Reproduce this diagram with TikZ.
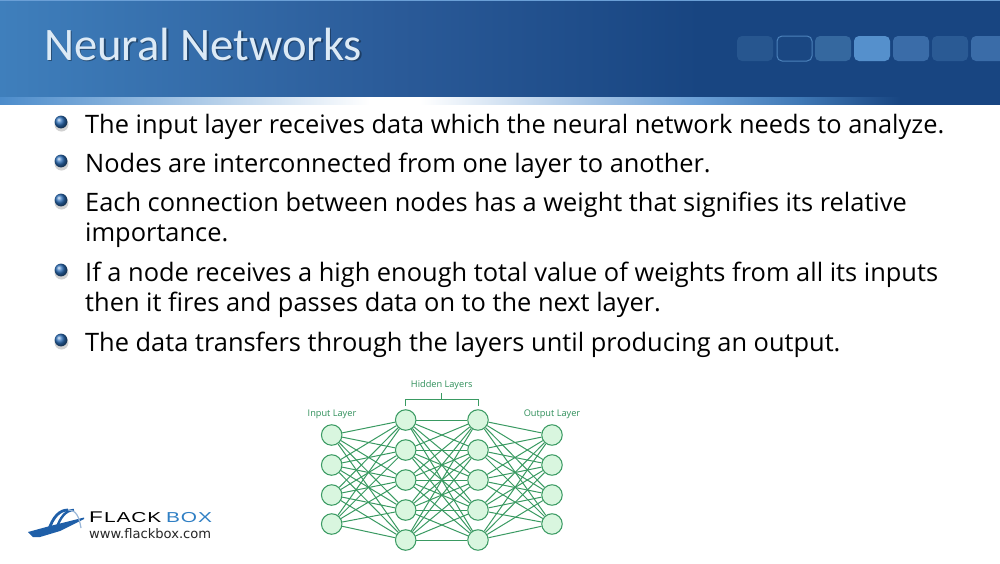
\documentclass[tikz,border=0pt]{standalone}
\usepackage{fontspec}
\setmainfont{Open Sans}
\newfontfamily\titlefont{Carlito}
\newfontfamily\logofont[FakeStretch=1.45,LetterSpace=6]{Liberation Sans}
\newfontfamily\urlfont{DejaVu Sans}
\definecolor{netgreen}{HTML}{3A9A62}
\definecolor{netfill}{HTML}{D9F6DF}
\definecolor{netlabel}{HTML}{2F8F5A}
\definecolor{boxblue}{HTML}{2F7FC4}
\definecolor{bridgeblue}{HTML}{1F5FA8}
\definecolor{ballblue}{HTML}{2C6FBA}
\definecolor{titletext}{HTML}{DCEAF6}
\definecolor{tabA}{HTML}{27568F}
\definecolor{tabB}{HTML}{1A4782}
\definecolor{tabC}{HTML}{35689F}
\definecolor{tabD}{HTML}{5590CC}
\definecolor{tabE}{HTML}{3A6CA8}
\definecolor{tabF}{HTML}{2A5A94}
\definecolor{tabEdge}{HTML}{4C82BB}
\definecolor{bandA}{HTML}{3F7FBC}
\definecolor{bandB}{HTML}{2A5A98}
\definecolor{bandC}{HTML}{184581}
\definecolor{stripA}{HTML}{4C8CCB}
\definecolor{stripB}{HTML}{9FC0E3}
\definecolor{stripC}{HTML}{6A9FD6}
\definecolor{stripD}{HTML}{3F78B5}
\pgfdeclarehorizontalshading{headband}{100bp}{
  color(0bp)=(bandA); color(25bp)=(bandA); color(45bp)=(bandB); color(60bp)=(bandC); color(100bp)=(bandC)}
\pgfdeclarehorizontalshading{stripband}{100bp}{
  color(0bp)=(stripA); color(25bp)=(stripA); color(43.5bp)=(white); color(46bp)=(white); color(55bp)=(stripB); color(60bp)=(stripC); color(65bp)=(stripD); color(70bp)=(bandC); color(100bp)=(bandC)}
\tikzset{
  netnode/.style={circle,draw=netgreen,fill=netfill,line width=1.05pt,minimum size=20.5pt,inner sep=0pt},
  netedge/.style={draw=netgreen,line width=1pt},
  netlbl/.style={font=\fontsize{9.2}{11}\selectfont,text=netlabel,inner sep=0pt},
  bodyline/.style={anchor=base west,inner sep=0pt,font=\fontsize{25.4}{30}\selectfont,text=black},
  tabbox/.style={rounded corners=5pt}
}
\newcommand{\ballbullet}[2]{%
  \fill[black!45,opacity=.4] (#1+.5,#2+2.5) circle (7);
  \shade[ball color=ballblue] (#1,#2) circle (6.4);
}
\begin{document}
\begin{tikzpicture}[x=1pt,y=-1pt]
\useasboundingbox (0,0) rectangle (1000,563);
\fill[white] (0,0) rectangle (1000,563);
% header
\shade[shading=headband] (0,0) rectangle (1000,97);
\fill[stripC] (0,0) rectangle (1000,1);
\shade[shading=stripband] (0,97) rectangle (1000,104);
% tabs
\fill[tabbox,tabA] (737,36) rectangle (773,61);
\draw[tabbox,tabEdge,fill=tabB,line width=1pt] (777,36) rectangle (812,61);
\fill[tabbox,tabC] (815,36) rectangle (851,61);
\fill[tabbox,tabD] (854,36) rectangle (890,61);
\fill[tabbox,tabE] (893,36) rectangle (929,61);
\fill[tabbox,tabF] (932,36) rectangle (968,61);
\fill[tabbox,tabE] (971,36) rectangle (1010,61);
% title
\node[anchor=base west,inner sep=0pt,font=\titlefont\fontsize{46.6}{55}\selectfont,text=black,opacity=.35] (titleshadow) at (45.5,61.5) {Neural Networks};
\node[anchor=base west,inner sep=0pt,font=\titlefont\fontsize{46.6}{55}\selectfont,text=titletext] (title) at (44,60) {Neural Networks};
% bullets
\ballbullet{61}{122}
\ballbullet{61}{161}
\ballbullet{61}{200}
\ballbullet{61}{270}
\ballbullet{61}{340}
\node[bodyline] (l1) at (85,133) {The input layer receives data which the neural network needs to analyze.};
\node[bodyline] (l2) at (85,172) {Nodes are interconnected from one layer to another.};
\node[bodyline] (l3) at (85,211) {Each connection between nodes has a weight that signifies its relative};
\node[bodyline] (l3b) at (85,241) {importance.};
\node[bodyline] (l4) at (85,281) {If a node receives a high enough total value of weights from all its inputs};
\node[bodyline] (l4b) at (85,311) {then it fires and passes data on to the next layer.};
\node[bodyline] (l5) at (85,351) {The data transfers through the layers until producing an output.};
% network nodes
\foreach \i/\y in {1/435,2/465,3/495,4/524} {
  \node[netnode] (in\i) at (331.7,\y) {};
  \node[netnode] (out\i) at (552,\y) {};
}
\foreach \i/\y in {1/420,2/450,3/480,4/510,5/540} {
  \node[netnode] (ha\i) at (405.7,\y) {};
  \node[netnode] (hb\i) at (478,\y) {};
}
\foreach \i in {1,...,4} \foreach \j in {1,...,5} {
  \draw[netedge] (in\i) -- (ha\j);
  \draw[netedge] (hb\j) -- (out\i);
}
\foreach \i in {1,...,5} \foreach \j in {1,...,5} {
  \draw[netedge] (ha\i) -- (hb\j);
}
% labels
\node[netlbl] (inlbl) at (332,414) {Input Layer};
\node[netlbl] (hidlbl) at (441.7,385) {Hidden Layers};
\node[netlbl] (outlbl) at (552,414) {Output Layer};
\draw[netgreen,line width=1pt] (405.7,405.5) -- (405.7,399.5) -- (478,399.5) -- (478,405.5);
\draw[netgreen,line width=1pt] (441.7,399.5) -- (441.7,393);
% logo
\fill[bridgeblue] (28,532) -- (50,526) -- (84,517.5) -- (84,519) -- (60,531) -- (40,537) -- (33,537) -- cycle;
\draw[bridgeblue,line width=2.8pt] (48,532) .. controls (53,516) and (60,510) .. (68,510);
\draw[bridgeblue,line width=2.4pt] (56,530) .. controls (60,517) and (66,510) .. (74,510);
\draw[bridgeblue!45,line width=1.2pt] (68,510) .. controls (76,510) and (79,516) .. (81,528);
\node[anchor=base west,inner sep=0pt,text=black,font=\logofont\fontsize{15.5}{20}\selectfont] (logoa) at (89,522) {F};
\node[anchor=base west,inner sep=0pt,text=black,font=\logofont\fontsize{14.4}{20}\selectfont] (logob) at (104,522) {LACK};
\node[anchor=base west,inner sep=0pt,text=boxblue,font=\logofont\fontsize{14.4}{20}\selectfont] (logoc) at (166,522) {BOX};
\node[anchor=base west,inner sep=0pt,text=black!85,font=\urlfont\fontsize{13.1}{15}\selectfont] (logod) at (89,538) {www.flackbox.com};
\end{tikzpicture}
\end{document}
